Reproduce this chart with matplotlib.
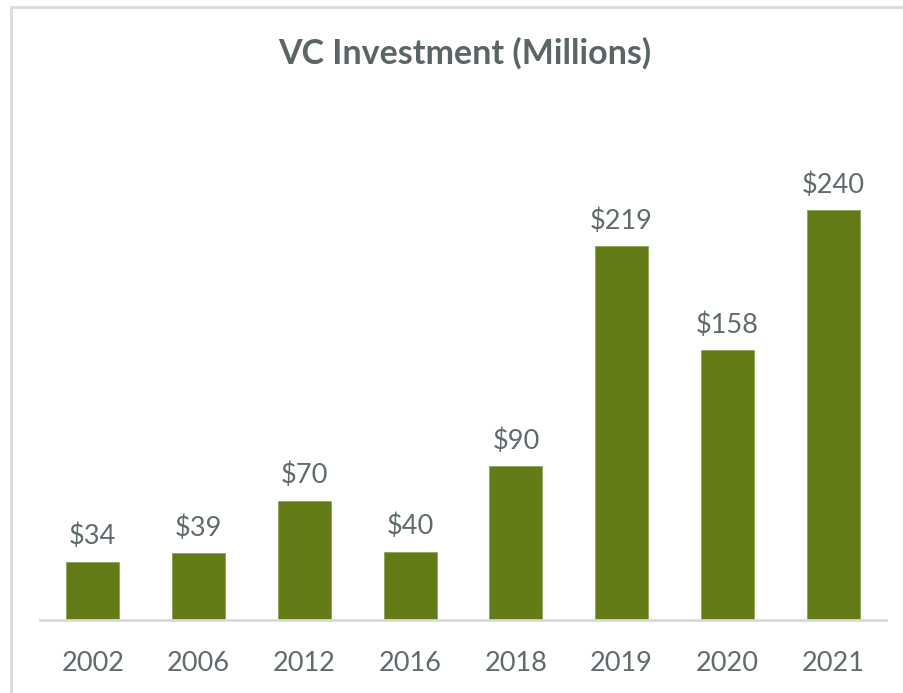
import matplotlib
matplotlib.use("Agg")
import matplotlib.pyplot as plt
from matplotlib.patches import Rectangle

years = ["2002", "2006", "2012", "2016", "2018", "2019", "2020", "2021"]
investment = [34, 39, 70, 40, 90, 219, 158, 240]

BAR_COLOR = "#637B17"
TEXT_COLOR = "#5F6B6D"
W, H = 904, 693

plt.rcParams["font.family"] = ["Lato", "DejaVu Sans"]

fig = plt.figure(figsize=(W / 100, H / 100), dpi=100)
ax = fig.add_axes([40 / W, 1 - 620 / H, 846 / W, 512 / H])

x = range(len(years))
ax.bar(x, investment, width=0.5, color=BAR_COLOR, edgecolor="#8FA35A",
       linewidth=0.6)
for xi, v in zip(x, investment):
    ax.annotate(f"${v}", (xi, v), xytext=(0, 9), textcoords="offset points",
                ha="center", va="bottom", fontsize=19.5, color=TEXT_COLOR)

ax.set_xlim(-0.5, len(years) - 0.5)
ax.set_ylim(0, 300)
ax.set_xticks(list(x))
ax.set_xticklabels(years, fontsize=19.5, color=TEXT_COLOR)
ax.tick_params(axis="x", length=0, pad=22)
ax.set_yticks([])
for s in ("top", "right", "left"):
    ax.spines[s].set_visible(False)
ax.spines["bottom"].set_color("#D9D9D9")
ax.spines["bottom"].set_linewidth(2)

fig.text(465 / W, 1 - 53 / H, "VC Investment (Millions)", ha="center",
         va="center", fontsize=24.5, fontweight="bold", color="#5A6566")

# light chart-area frame, running off the right and bottom edges
fig.patches.append(Rectangle((11 / W, -0.05), 1.0, 1 - 7 / H + 0.05,
                             transform=fig.transFigure, fill=False,
                             edgecolor="#D9DCDC", linewidth=2))

fig.savefig("out.png", dpi=100)
